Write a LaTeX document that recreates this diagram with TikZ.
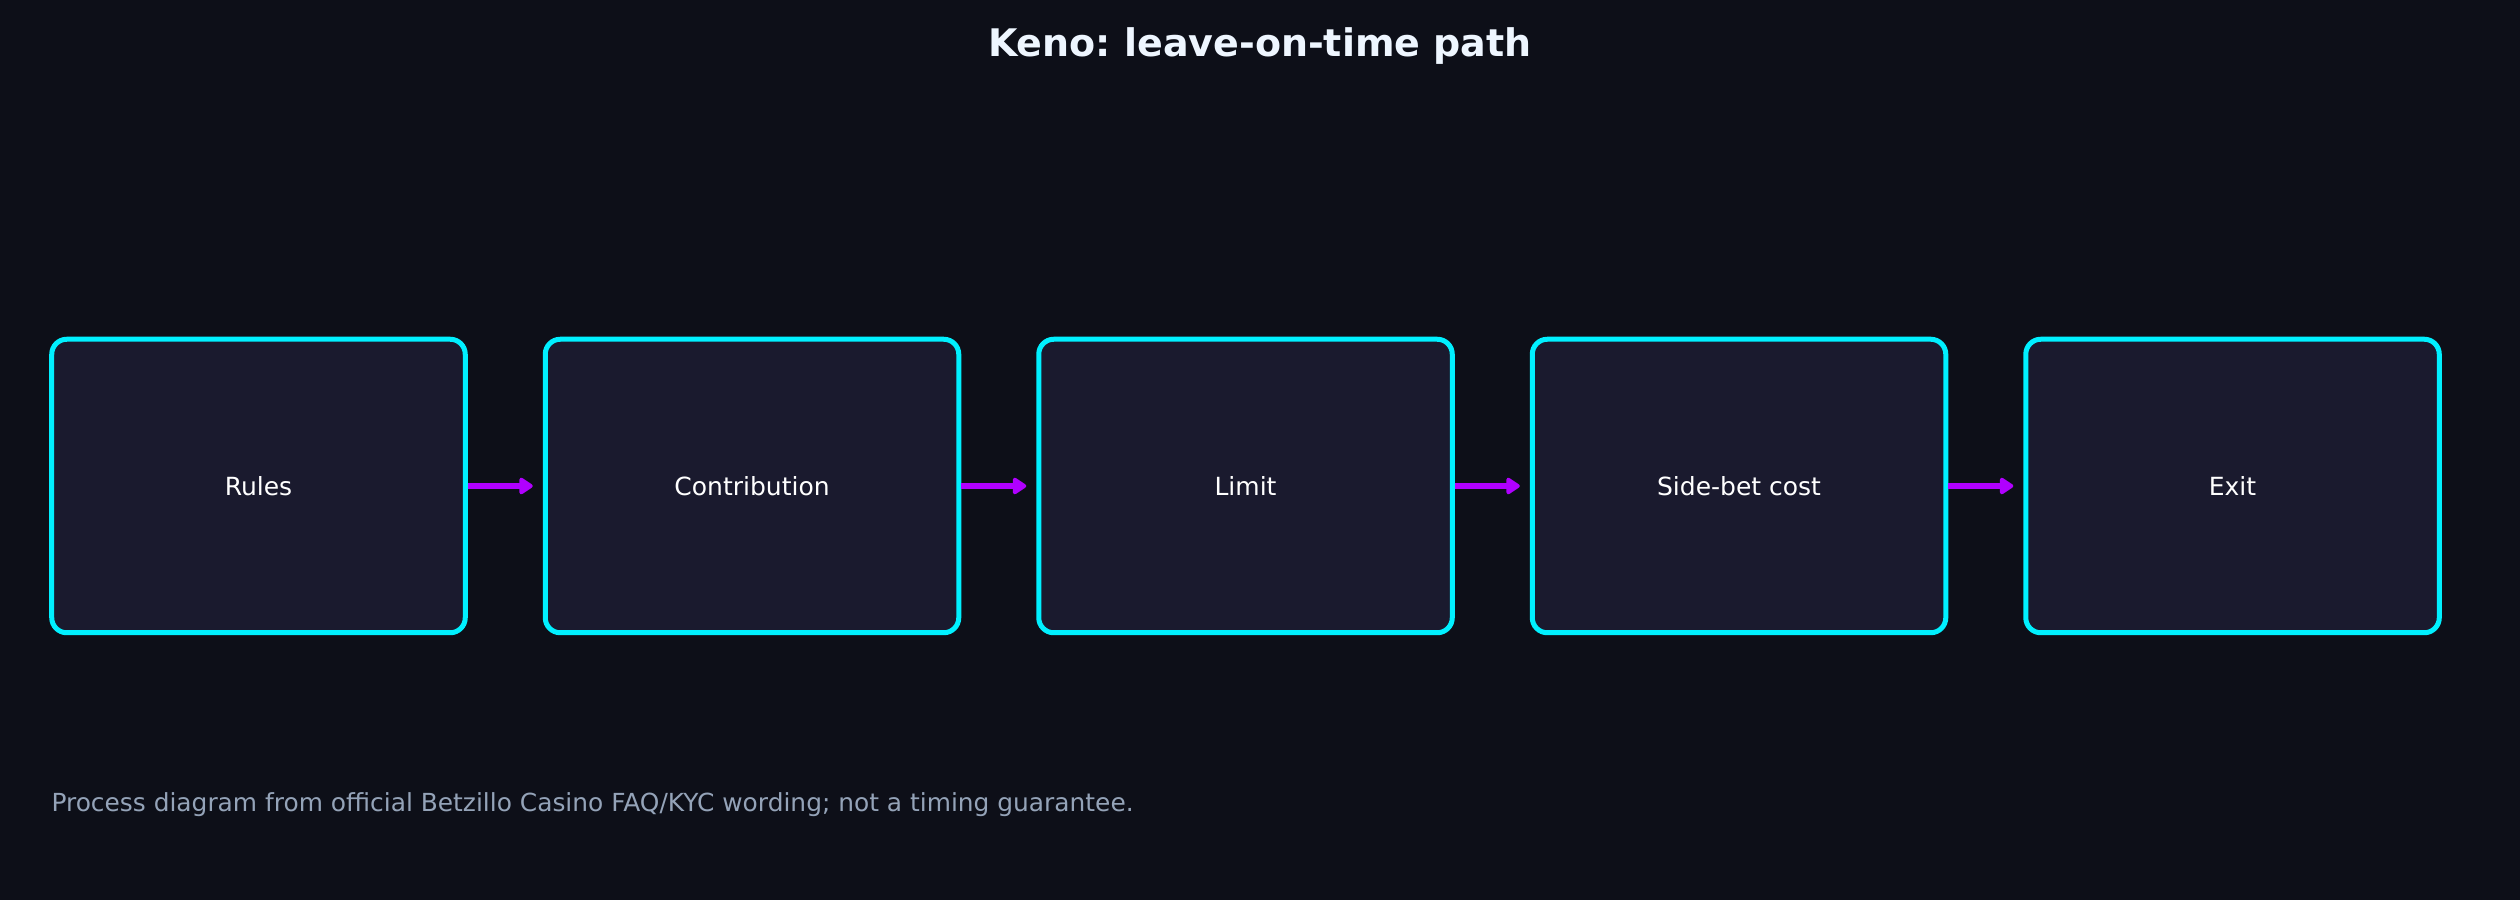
\documentclass[tikz,border=0pt]{standalone}
\usepackage{fontspec}
\setmainfont{DejaVu Sans}
\usetikzlibrary{positioning,arrows.meta}
\frenchspacing

\definecolor{bgdark}{HTML}{0D0F18}
\definecolor{boxfill}{HTML}{1A1A2E}
\definecolor{neoncyan}{HTML}{00F0FF}
\definecolor{neonviolet}{HTML}{B000FF}
\definecolor{notegray}{HTML}{94A3B8}
\definecolor{titlewhite}{HTML}{EEF6FF}

\begin{document}
\begin{tikzpicture}[x=0.4pt, y=0.4pt,
    stage/.style={draw=neoncyan, line width=2pt, fill=boxfill, rounded corners=6pt,
      minimum width=165.4pt, minimum height=117.4pt, text=white,
      font=\fontsize{10}{12}\selectfont},
    flow/.style={draw=neonviolet, line width=2.2pt,
      -{Triangle[length=6pt,width=7.5pt,round]}, shorten >=4pt},
    node distance=30pt]
  \fill [bgdark] (0,0) rectangle (2520,900);
  \useasboundingbox (0,0) rectangle (2520,900);

  \node [font=\bfseries\fontsize{15.2}{18}\selectfont, text=titlewhite, inner sep=0pt]
    (title) at (1260,854) {Keno: leave-on-time path};

  \node [stage] (rules) at (258.5,414) {Rules};
  \node [stage, right=of rules] (contrib) {Contribution};
  \node [stage, right=of contrib] (limit) {Limit};
  \node [stage, right=of limit] (sidebet) {Side-bet cost};
  \node [stage, right=of sidebet] (exit) {Exit};

  \draw [flow] (rules) -- (contrib);
  \draw [flow] (contrib) -- (limit);
  \draw [flow] (limit) -- (sidebet);
  \draw [flow] (sidebet) -- (exit);

  \node [anchor=west, inner sep=0pt, text=notegray, font=\fontsize{9.95}{12}\selectfont]
    (note) at (51,95) {Process diagram from official Betzillo Casino FAQ/KYC wording; not a timing guarantee.};
\end{tikzpicture}
\end{document}
